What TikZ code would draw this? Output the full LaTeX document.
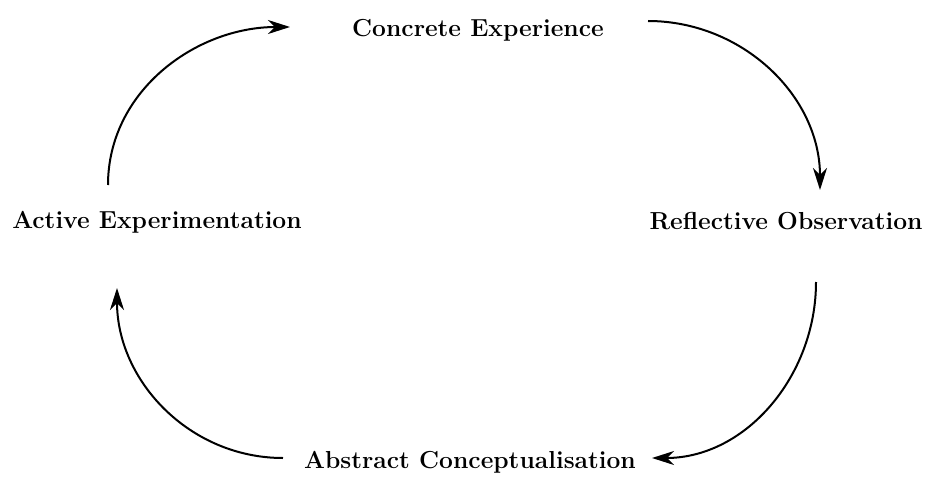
\documentclass[tikz,border=0pt]{standalone}
\usetikzlibrary{arrows.meta}
\begin{document}
\begin{tikzpicture}
	[x=0.5pt,y=0.5pt,every node/.style={font=\fontsize{12.3}{14}\selectfont\bfseries},
	cyc/.style={-{Stealth[length=11pt,width=7pt,inset=3.5pt]},line width=1pt}]
	\useasboundingbox (0,0) rectangle (932,478);
	\node (ce) at (478,448) {Concrete Experience};
	\node (ro) at (786,257) {Reflective Observation};
	\node (ac) at (470,16)  {Abstract Conceptualisation};
	\node (ae) at (157,256) {Active Experimentation};

	\coordinate (ae1) at (108,293);
	\coordinate (ce0) at (290,451);
	\coordinate (ce1) at (648,457);
	\coordinate (ro0) at (820,288);
	\coordinate (ro1) at (816,196);
	\coordinate (ac0) at (652,20);
	\coordinate (ac1) at (283,20);
	\coordinate (ae0) at (117,190);

	\foreach \from/\to/\o/\i in {ae1/ce0/90/180, ce1/ro0/0/90,
	ro1/ac0/-90/0, ac1/ae0/180/-90}
	\draw[cyc] (\from) to[out=\o,in=\i] (\to);
\end{tikzpicture}
\end{document}
